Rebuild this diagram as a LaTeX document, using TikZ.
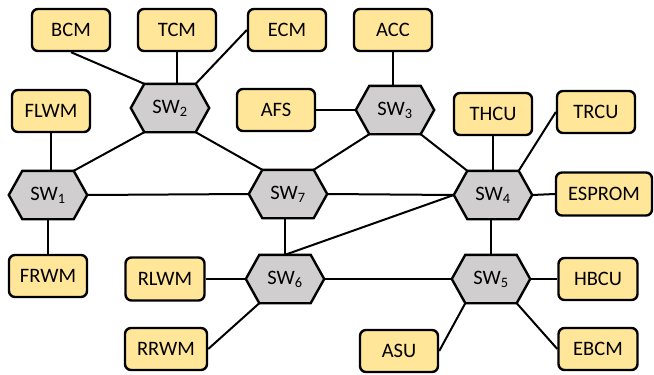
\documentclass[tikz,border=0pt]{standalone}
\usepackage{fontspec}
\setmainfont{Carlito}
\usetikzlibrary{calc}
\definecolor{boxfill}{HTML}{FFE699}
\definecolor{hexfill}{HTML}{D0CECE}
\pgfdeclarelayer{bg}
\pgfdeclarelayer{mid}
\pgfsetlayers{bg,mid,main}
\begin{document}
\begin{tikzpicture}[x=1pt,y=-1pt,
  lbl/.style={font=\fontsize{20.5}{24}\selectfont},
  box/.style={lbl, draw, line width=2.4pt, fill=boxfill, rounded corners=6pt,
    minimum width=78pt, minimum height=42pt, inner sep=0pt},
  sw/.style={lbl, minimum width=78pt, minimum height=48pt, inner sep=0pt},
  hex/.style={draw, line width=2.4pt, fill=hexfill, line join=miter},
  link/.style={line width=2pt}]
\useasboundingbox (0,0) rectangle (654,375);

% switches
\node[sw] (sw1) at (48,195) {SW\textsubscript{1}};
\node[sw] (sw2) at (170,108) {SW\textsubscript{2}};
\node[sw] (sw3) at (395,110) {SW\textsubscript{3}};
\node[sw] (sw4) at (493,195) {SW\textsubscript{4}};
\node[sw] (sw5) at (491,279) {SW\textsubscript{5}};
\node[sw] (sw6) at (285,279) {SW\textsubscript{6}};
\node[sw] (sw7) at (288,194) {SW\textsubscript{7}};

\foreach \n in {1,...,7}{
  \coordinate (sw\n-tl) at ($(sw\n.north west)+(13.5,0)$);
  \coordinate (sw\n-tr) at ($(sw\n.north east)+(-13.5,0)$);
  \coordinate (sw\n-bl) at ($(sw\n.south west)+(13.5,0)$);
  \coordinate (sw\n-br) at ($(sw\n.south east)+(-13.5,0)$);
}
\begin{pgfonlayer}{mid}
\foreach \n in {1,...,7}{
  \draw[hex] (sw\n.west) -- (sw\n-tl) -- (sw\n-tr) -- (sw\n.east) -- (sw\n-br) -- (sw\n-bl) -- cycle;
}
\end{pgfonlayer}

% modules
\node[box] (bcm) at (71,30) {BCM};
\node[box] (tcm) at (177,30) {TCM};
\node[box] (ecm) at (287,30) {ECM};
\node[box] (acc) at (393,30) {ACC};
\node[box] (flwm) at (51,111) {FLWM};
\node[box] (afs) at (276,110) {AFS};
\node[box] (thcu) at (493,114) {THCU};
\node[box] (trcu) at (596,112) {TRCU};
\node[box, minimum width=96pt, minimum height=43pt] (esprom) at (604,194) {ESPROM};
\node[box] (frwm) at (48,276) {FRWM};
\node[box, minimum width=79pt, minimum height=43pt] (rlwm) at (165,279) {RLWM};
\node[box, minimum width=82pt] (rrwm) at (166,349) {RRWM};
\node[box, minimum width=79pt] (hbcu) at (598,279) {HBCU};
\node[box] (asu) at (399,351) {ASU};
\node[box, minimum width=79pt] (ebcm) at (598,349) {EBCM};

\begin{pgfonlayer}{bg}
\draw[link] (bcm.south) -- (sw2-tl);
\draw[link] (tcm.south) -- (tcm.south |- sw2.north);
\draw[link] (ecm.west) -- (sw2-tr);
\draw[link] (flwm.south) -- (flwm.south |- sw1.north);
\draw[link] (sw1.south) -- (frwm.north);
\draw[link] (sw2-bl) -- (sw1-tr);
\draw[link] (sw2-br) -- (sw7-tl);
\draw[link] (afs.east) -- (sw3.west);
\draw[link] (acc.south) -- (acc.south |- sw3.north);
\draw[link] (sw3-bl) -- (sw7-tr);
\draw[link] (sw3-br) -- (sw4-tl);
\draw[link] (thcu.south) -- (thcu.south |- sw4.north);
\draw[link] (trcu.west) -- (sw4-tr);
\draw[link] (sw4.east) -- (esprom.west);
\draw[link] (sw1.east) -- (sw7.west);
\draw[link] (sw7.east) -- (sw4.west);
\draw[link] (sw6.north) -- (sw4.west);
\draw[link] (sw6.north) -- (sw6.north |- sw7.south);
\draw[link] (rlwm.east) -- (sw6.west);
\draw[link] (rrwm.east) -- (sw6-bl);
\draw[link] (sw6.east) -- (sw5.west);
\draw[link] (sw5.north) -- (sw5.north |- sw4.south);
\draw[link] (sw5.east) -- (hbcu.west);
\draw[link] (sw5-bl) -- (asu.east);
\draw[link] (sw5-br) -- (ebcm.west);
\end{pgfonlayer}
\end{tikzpicture}
\end{document}
